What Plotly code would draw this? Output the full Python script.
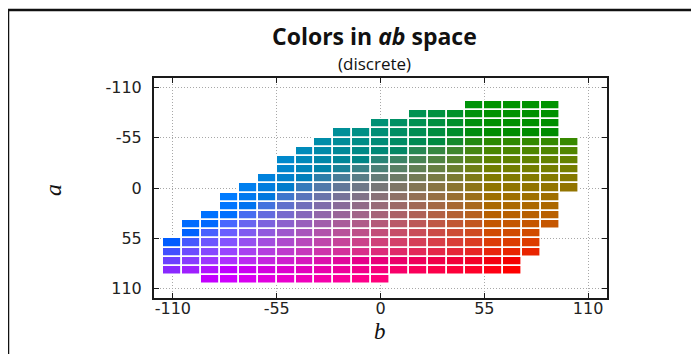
import numpy as np
import plotly.graph_objects as go

# ---- data (quantized ab gamut, grid size 10) ----
b_values = [-110, -100, -90, -80, -70, -60, -50, -40, -30, -20, -10,
            0, 10, 20, 30, 40, 50, 60, 70, 80, 90, 100]
a_min = [60, 40, 30, 10, 0, -10, -30, -40, -50, -60, -60,
         -70, -70, -80, -80, -80, -90, -90, -90, -90, -90, -50]
a_max = [90, 90, 100, 100, 100, 100, 100, 100, 100, 100, 100,
         100, 90, 90, 90, 90, 90, 90, 90, 70, 40, 0]
grid_step = 10
lightness = 50

tick_vals = [-110, -55, 0, 55, 110]
tick_text = ["-110", "-55", "0", "55", "110"]

# ---- build cells ----
cell_b, cell_a = [], []
for b, lo, hi in zip(b_values, a_min, a_max):
    for a in range(lo, hi + 1, grid_step):
        cell_b.append(b)
        cell_a.append(a)
cell_b = np.array(cell_b, float)
cell_a = np.array(cell_a, float)


def lab_to_rgb(L, a, b):
    fy = (L + 16.0) / 116.0
    fx = fy + a / 500.0
    fz = fy - b / 200.0
    def finv(t):
        return np.where(t > 6 / 29, t ** 3, 3 * (6 / 29) ** 2 * (t - 4 / 29))
    X = 0.95047 * finv(fx)
    Y = 1.00000 * finv(np.full_like(a, fy))
    Z = 1.08883 * finv(fz)
    R = 3.2406 * X - 1.5372 * Y - 0.4986 * Z
    G = -0.9689 * X + 1.8758 * Y + 0.0415 * Z
    B = 0.0557 * X - 0.2040 * Y + 1.0570 * Z
    out = []
    for c in (R, G, B):
        c = np.clip(c, 0, 1)
        c = np.where(c <= 0.0031308, 12.92 * c, 1.055 * c ** (1 / 2.4) - 0.055)
        out.append(np.clip(np.round(c * 255), 0, 255).astype(int))
    return [f"rgb({r},{g},{bb})" for r, g, bb in zip(*out)]


colors = lab_to_rgb(lightness, cell_a, cell_b)

fig = go.Figure()
fig.add_trace(go.Bar(
    x=cell_b,
    y=[grid_step] * len(cell_b),
    base=cell_a - grid_step / 2,
    width=grid_step,
    marker=dict(color=colors, line=dict(color="white", width=1.6)),
    hoverinfo="skip",
    showlegend=False,
))

# page has an 8px body margin: figure origin sits at (8, 8) in the window
OFF = 8
W, H = 699 - OFF, 354 - OFF
L_, R_, T_, B_ = 154 - OFF, 607 - OFF, 78 - OFF, 298 - OFF
pw, ph = R_ - L_, B_ - T_
def px(x):  # window pixel x -> paper
    return (x - OFF - L_) / pw
def py(y):  # window pixel y -> paper
    return (B_ - (y - OFF)) / ph

axis_common = dict(
    tickvals=tick_vals, ticktext=tick_text,
    showgrid=True, gridcolor="#a8a8a8", gridwidth=1, griddash="1px,2px",
    zeroline=False,
    showline=True, linecolor="#1a1a1a", linewidth=2, mirror="ticks",
    ticks="inside", ticklen=5, tickwidth=1, tickcolor="#1a1a1a",
    tickfont=dict(family="DejaVu Sans", size=16, color="#222"),
    layer="above traces",
)

fig.update_layout(
    width=W, height=H,
    margin=dict(l=L_, r=W - R_, t=T_, b=H - B_, pad=0),
    paper_bgcolor="white", plot_bgcolor="white",
    bargap=0, barmode="overlay",
    xaxis=dict(range=[-120, 120], ticklabelstandoff=-5, **axis_common),
    yaxis=dict(range=[120, -120], ticklabelstandoff=7, **axis_common),
    annotations=[
        dict(text="<b>Colors in <i>ab</i> space</b>", x=px(374), y=py(36),
             xref="paper", yref="paper", showarrow=False, xanchor="center", yanchor="middle",
             font=dict(family="Open Sans", size=23, color="#111")),
        dict(text="(discrete)", x=px(374), y=py(63),
             xref="paper", yref="paper", showarrow=False, xanchor="center", yanchor="middle",
             font=dict(family="Open Sans", size=17, color="#111")),
        dict(text="<i>b</i>", x=px(380), y=py(331),
             xref="paper", yref="paper", showarrow=False, xanchor="center", yanchor="middle",
             font=dict(family="Liberation Serif", size=23, color="#111")),
        dict(text="<i>a</i>", x=px(53), y=py(190), textangle=-90,
             xref="paper", yref="paper", showarrow=False, xanchor="center", yanchor="middle",
             font=dict(family="Liberation Serif", size=24, color="#111")),
    ],
    shapes=[
        dict(type="line", xref="paper", yref="paper", x0=px(7), x1=px(699), y0=py(10), y1=py(10),
             line=dict(color="#111", width=2.5)),
        dict(type="line", xref="paper", yref="paper", x0=px(8), x1=px(8), y0=py(9), y1=py(354),
             line=dict(color="#111", width=2.5)),
    ],
)

fig.write_html("out.html")
